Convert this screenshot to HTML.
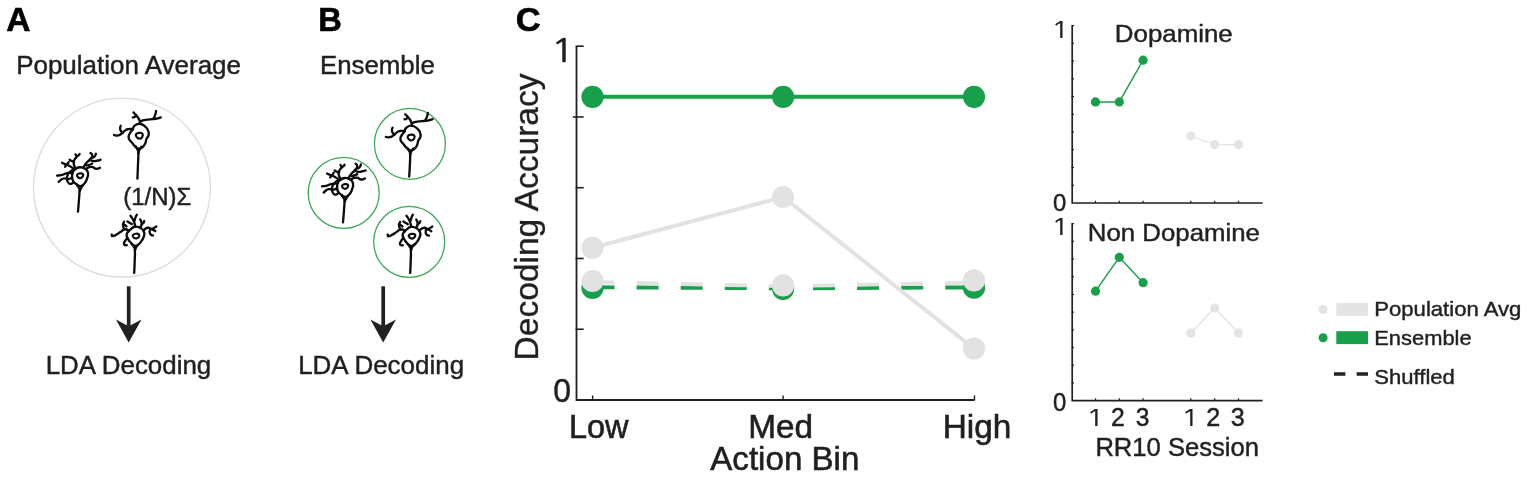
<!DOCTYPE html>
<html lang="en"><head><meta charset="utf-8"><title>Figure</title>
<style>
html,body{margin:0;padding:0;background:#fff;}
body{width:1527px;height:477px;overflow:hidden;}
svg{display:block;font-family:"Liberation Sans",Arial,Helvetica,sans-serif;}
</style></head><body>
<svg width="1527" height="477" viewBox="0 0 1527 477">
<rect width="1527" height="477" fill="#fff"/>

<text transform="translate(6.36,31.00) scale(0.9877,1)" font-size="34" font-weight="bold" stroke="#000" stroke-width="0.607" fill="#000">A</text>
<text transform="translate(16.15,73.65) scale(1.0230,1)" font-size="25.4" stroke="#231f20" stroke-width="0.440" fill="#231f20">Population Average</text>
<ellipse cx="121.95" cy="187.65" rx="88.45" ry="89.45" fill="none" stroke="#dadada" stroke-width="1.3"/>
<g transform="translate(108.00,104.00) scale(0.16759)"><g fill="none" stroke="#0a0a0a" stroke-width="13.8" stroke-linecap="round" stroke-linejoin="round"><path d="M158,131 C170.0,121.1 172.9,116.9 190,118 C207.1,119.1 208.7,123.8 222,135 C235.3,146.2 234.7,146.4 240,160 C245.3,173.6 244.9,172.7 242,186 C239.1,199.3 234.3,196.7 229,210 C223.7,223.3 228.4,223.2 222,236 C215.6,248.8 215.7,250.0 205,258 C194.3,266.0 194.0,267.9 182,266 C170.0,264.1 170.7,260.9 160,251 C149.3,241.1 151.6,241.3 142,229 C132.4,216.7 127.7,218.1 124,205 C120.3,191.9 122.4,193.3 128,180 C133.6,166.7 137.0,168.1 145,155 C153.0,141.9 146.0,140.9 158,131Z"/><path d="M167,181 C172.0,171.0 197.3,168.3 205,177 C212.7,185.7 202.7,205.7 190,207 C177.3,208.3 162.0,191.0 167,181Z" stroke-width="13.11"/><path d="M165,252 C168.7,258.7 170.7,258.7 176,272 C181.3,285.3 180.0,262.7 181,292 C182.0,321.3 180.8,309.0 179,360 C177.2,411.0 176.7,416.7 175.5,445"/><path d="M200,255 C196.0,260.7 194.0,259.7 188,272 C182.0,284.3 184.0,285.3 182,292"/><path d="M192,120 C190.7,112.7 194.7,114.0 188,98 C181.3,82.0 184.0,88.0 172,72 C160.0,56.0 158.7,57.3 152,50"/><path d="M166,68 C163.3,71.3 164.0,74.0 158,78 C152.0,82.0 151.3,79.3 148,80"/><path d="M190,106 C198.3,102.7 195.0,100.7 215,96 C235.0,91.3 226.7,94.7 250,92 C273.3,89.3 263.3,92.0 285,88 C306.7,84.0 305.0,82.7 315,80"/><path d="M270,88 C273.7,80.7 275.3,81.3 281,66 C286.7,50.7 285.0,50.0 287,42"/><path d="M150,152 C140.7,151.3 138.7,147.3 122,150 C105.3,152.7 114.0,150.7 100,160 C86.0,169.3 95.0,168.7 80,178 C65.0,187.3 69.7,185.7 55,188 C40.3,190.3 42.3,186.0 36,185"/><path d="M86,172 C81.7,165.3 76.3,166.0 73,152 C69.7,138.0 75.0,137.3 76,130"/></g></g>
<g transform="translate(52.00,148.00) scale(0.16759)"><g fill="none" stroke="#0a0a0a" stroke-width="13.8" stroke-linecap="round" stroke-linejoin="round"><path d="M135,130 C145.7,122.0 147.7,116.3 165,115 C182.3,113.7 186.7,115.7 200,125 C213.3,134.3 212.3,135.3 215,150 C217.7,164.7 215.3,164.0 210,180 C204.7,196.0 205.7,197.2 195,210 C184.3,222.8 183.3,226.7 170,228 C156.7,229.3 157.0,223.8 145,215 C133.0,206.2 131.7,208.3 125,195 C118.3,181.7 120.0,178.3 120,165 C120.0,151.7 121.0,154.3 125,145 C129.0,135.7 124.3,138.0 135,130Z"/><path d="M150,160 C154.7,151.7 177.3,148.3 184,155 C190.7,161.7 181.3,178.3 170,180 C158.7,181.7 145.3,168.3 150,160Z" stroke-width="13.11"/><path d="M150,222 C153.3,227.3 155.3,227.0 160,238 C164.7,249.0 164.0,227.7 164,255 C164.0,282.3 163.0,278.3 160,320 C157.0,361.7 156.7,360.0 155,380"/><path d="M186,220 C182.0,226.0 180.7,226.3 174,238 C167.3,249.7 168.7,249.3 166,255"/><path d="M142,124 C138.0,114.7 132.7,114.0 130,96 C127.3,78.0 128.7,84.7 134,70 C139.3,55.3 144.0,62.7 146,52 C148.0,41.3 142.0,42.7 140,38"/><path d="M146,52 C149.3,50.0 149.7,51.3 156,46 C162.3,40.7 162.0,39.3 165,36"/><path d="M132,82 C127.3,80.7 126.7,82.0 118,78 C109.3,74.0 110.0,72.7 106,70"/><path d="M186,118 C192.3,108.7 192.0,106.0 205,90 C218.0,74.0 213.3,84.7 225,70 C236.7,55.3 238.3,59.3 240,46 C241.7,32.7 233.3,35.3 230,30"/><path d="M243,58 C247.0,55.3 248.7,58.0 255,50 C261.3,42.0 259.7,39.3 262,34"/><path d="M226,70 C233.3,72.7 234.0,76.0 248,78 C262.0,80.0 254.0,78.7 268,76 C282.0,73.3 282.7,72.0 290,70"/><path d="M200,125 C211.7,121.0 214.3,113.3 235,113 C255.7,112.7 245.0,122.3 262,124 C279.0,125.7 278.0,120.0 286,118"/><path d="M205,104 C211.7,102.7 213.3,104.0 225,100 C236.7,96.0 235.0,94.7 240,92"/><path d="M132,126 C122.0,119.3 120.7,116.0 102,106 C83.3,96.0 90.0,102.0 76,96 C62.0,90.0 65.3,90.7 60,88"/><path d="M78,112 C81.3,108.0 80.7,109.3 88,100 C95.3,90.7 96.0,89.3 100,84"/><path d="M120,150 C110.0,150.0 110.0,146.7 90,150 C70.0,153.3 80.0,155.0 60,160 C40.0,165.0 40.0,163.3 30,165"/><path d="M120,176 C111.7,179.3 112.3,184.0 95,186 C77.7,188.0 86.3,176.7 68,182 C49.7,187.3 49.3,195.3 40,202"/><path d="M130,128 C121.3,134.0 117.3,130.3 104,146 C90.7,161.7 93.0,156.0 90,175 C87.0,194.0 88.0,190.0 95,203 C102.0,216.0 100.7,213.0 111,214 C121.3,215.0 121.0,208.7 126,206"/></g></g>
<g transform="translate(104.00,210.00) scale(0.16759)"><g fill="none" stroke="#0a0a0a" stroke-width="13.8" stroke-linecap="round" stroke-linejoin="round"><path d="M160,115 C170.7,107.5 169.0,101.9 185,100 C201.0,98.1 205.3,98.7 220,108 C234.7,117.3 236.0,119.8 240,135 C244.0,150.2 240.3,150.3 235,165 C229.7,179.7 229.3,178.0 220,190 C210.7,202.0 210.7,204.1 200,210 C189.3,215.9 190.7,216.0 180,212 C169.3,208.0 169.3,204.9 160,195 C150.7,185.1 151.7,187.0 145,175 C138.3,163.0 135.0,162.5 135,150 C135.0,137.5 138.3,137.3 145,128 C151.7,118.7 149.3,122.5 160,115Z"/><path d="M172,150 C176.7,141.7 200.7,138.3 208,145 C215.3,151.7 206.0,168.3 194,170 C182.0,171.7 167.3,158.3 172,150Z" stroke-width="13.11"/><path d="M165,202 C169.3,208.0 171.7,207.3 178,220 C184.3,232.7 182.3,210.0 184,240 C185.7,270.0 184.3,265.0 183,310 C181.7,355.0 181.0,353.3 180,375"/><path d="M205,205 C200.7,210.7 198.3,210.3 192,222 C185.7,233.7 188.0,234.0 186,240"/><path d="M186,100 C184.3,92.0 186.3,92.0 181,76 C175.7,60.0 177.7,66.0 170,52 C162.3,38.0 162.0,40.0 158,34"/><path d="M183,62 C184.7,56.0 183.7,55.3 188,44 C192.3,32.7 193.3,33.3 196,28"/><path d="M166,84 C161.3,81.3 160.7,81.3 152,76 C143.3,70.7 144.0,70.7 140,68"/><path d="M214,105 C217.7,97.3 224.3,98.3 225,82 C225.7,65.7 219.0,64.7 216,56"/><path d="M224,86 C228.0,82.7 230.7,82.7 236,76 C241.3,69.3 238.7,69.3 240,66"/><path d="M236,122 C244.0,116.7 243.7,108.7 260,106 C276.3,103.3 269.7,107.3 285,114 C300.3,120.7 299.0,122.0 306,126"/><path d="M286,114 C290.7,111.3 291.3,111.3 300,106 C308.7,100.7 308.0,100.7 312,98"/><path d="M274,116 C274.3,124.7 269.0,130.0 275,142 C281.0,154.0 286.3,148.7 292,152"/><path d="M150,126 C141.7,122.3 141.7,113.7 125,115 C108.3,116.3 116.7,119.7 100,130 C83.3,140.3 91.0,137.3 75,146 C59.0,154.7 61.7,156.0 52,156 C42.3,156.0 48.0,149.3 46,146"/><path d="M122,116 C119.3,108.0 114.7,107.3 114,92 C113.3,76.7 118.0,77.3 120,70"/><path d="M134,98 C130.7,95.3 131.3,94.0 124,90 C116.7,86.0 116.0,87.3 112,86"/><path d="M140,166 C135.0,172.7 131.7,172.7 125,186 C118.3,199.3 116.3,198.0 120,206 C123.7,214.0 130.7,208.7 136,210"/></g></g>
<text transform="translate(123.19,204.60) scale(0.9740,1)" font-size="24.6" stroke="#231f20" stroke-width="0.462" fill="#231f20">(1/N)Σ</text>
<path d="M128.7,286.3 V326" stroke="#231f20" stroke-width="3.7" fill="none"/><path d="M128.7,342.5 L115.89999999999999,319.6 L128.7,326.2 L141.5,319.6 Z" fill="#231f20"/>
<text transform="translate(45.65,373.60) scale(1.0278,1)" font-size="25.2" stroke="#231f20" stroke-width="0.438" fill="#231f20">LDA Decoding</text>
<text transform="translate(318.18,31.00) scale(0.9595,1)" font-size="34" font-weight="bold" stroke="#000" stroke-width="0.625" fill="#000">B</text>
<text transform="translate(320.06,73.65) scale(1.0157,1)" font-size="25.4" stroke="#231f20" stroke-width="0.443" fill="#231f20">Ensemble</text>
<circle cx="409.9" cy="143.8" r="35.5" fill="none" stroke="#3aa655" stroke-width="1.25"/>
<circle cx="343.7" cy="192.9" r="35.5" fill="none" stroke="#3aa655" stroke-width="1.25"/>
<circle cx="409.2" cy="241.9" r="35.5" fill="none" stroke="#3aa655" stroke-width="1.25"/>
<g transform="translate(379.80,105.80) scale(0.16759)"><g fill="none" stroke="#0a0a0a" stroke-width="13.8" stroke-linecap="round" stroke-linejoin="round"><path d="M158,131 C170.0,121.1 172.9,116.9 190,118 C207.1,119.1 208.7,123.8 222,135 C235.3,146.2 234.7,146.4 240,160 C245.3,173.6 244.9,172.7 242,186 C239.1,199.3 234.3,196.7 229,210 C223.7,223.3 228.4,223.2 222,236 C215.6,248.8 215.7,250.0 205,258 C194.3,266.0 194.0,267.9 182,266 C170.0,264.1 170.7,260.9 160,251 C149.3,241.1 151.6,241.3 142,229 C132.4,216.7 127.7,218.1 124,205 C120.3,191.9 122.4,193.3 128,180 C133.6,166.7 137.0,168.1 145,155 C153.0,141.9 146.0,140.9 158,131Z"/><path d="M167,181 C172.0,171.0 197.3,168.3 205,177 C212.7,185.7 202.7,205.7 190,207 C177.3,208.3 162.0,191.0 167,181Z" stroke-width="13.11"/><path d="M165,252 C168.7,258.7 170.7,258.7 176,272 C181.3,285.3 180.0,262.7 181,292 C182.0,321.3 180.8,316.7 179,360 C177.2,403.3 176.7,401.3 175.5,422"/><path d="M200,255 C196.0,260.7 194.0,259.7 188,272 C182.0,284.3 184.0,285.3 182,292"/><path d="M192,120 C190.7,112.7 194.7,114.0 188,98 C181.3,82.0 184.0,88.0 172,72 C160.0,56.0 158.7,57.3 152,50"/><path d="M166,68 C163.3,71.3 164.0,74.0 158,78 C152.0,82.0 151.3,79.3 148,80"/><path d="M190,106 C198.3,102.7 195.0,100.7 215,96 C235.0,91.3 226.7,94.7 250,92 C273.3,89.3 263.3,92.0 285,88 C306.7,84.0 305.0,82.7 315,80"/><path d="M270,88 C273.7,80.7 275.3,81.3 281,66 C286.7,50.7 285.0,50.0 287,42"/><path d="M150,152 C140.7,151.3 138.7,147.3 122,150 C105.3,152.7 114.0,150.7 100,160 C86.0,169.3 95.0,168.7 80,178 C65.0,187.3 69.7,185.7 55,188 C40.3,190.3 42.3,186.0 36,185"/><path d="M86,172 C81.7,165.3 76.3,166.0 73,152 C69.7,138.0 75.0,137.3 76,130"/></g></g>
<g transform="translate(317.00,158.70) scale(0.16759)"><g fill="none" stroke="#0a0a0a" stroke-width="13.8" stroke-linecap="round" stroke-linejoin="round"><path d="M135,130 C145.7,122.0 147.7,116.3 165,115 C182.3,113.7 186.7,115.7 200,125 C213.3,134.3 212.3,135.3 215,150 C217.7,164.7 215.3,164.0 210,180 C204.7,196.0 205.7,197.2 195,210 C184.3,222.8 183.3,226.7 170,228 C156.7,229.3 157.0,223.8 145,215 C133.0,206.2 131.7,208.3 125,195 C118.3,181.7 120.0,178.3 120,165 C120.0,151.7 121.0,154.3 125,145 C129.0,135.7 124.3,138.0 135,130Z"/><path d="M150,160 C154.7,151.7 177.3,148.3 184,155 C190.7,161.7 181.3,178.3 170,180 C158.7,181.7 145.3,168.3 150,160Z" stroke-width="13.11"/><path d="M150,222 C153.3,227.3 155.3,227.0 160,238 C164.7,249.0 164.0,227.7 164,255 C164.0,282.3 163.0,278.3 160,320 C157.0,361.7 156.7,360.0 155,380"/><path d="M186,220 C182.0,226.0 180.7,226.3 174,238 C167.3,249.7 168.7,249.3 166,255"/><path d="M142,124 C138.0,114.7 132.7,114.0 130,96 C127.3,78.0 128.7,84.7 134,70 C139.3,55.3 144.0,62.7 146,52 C148.0,41.3 142.0,42.7 140,38"/><path d="M146,52 C149.3,50.0 149.7,51.3 156,46 C162.3,40.7 162.0,39.3 165,36"/><path d="M132,82 C127.3,80.7 126.7,82.0 118,78 C109.3,74.0 110.0,72.7 106,70"/><path d="M186,118 C192.3,108.7 192.0,106.0 205,90 C218.0,74.0 213.3,84.7 225,70 C236.7,55.3 238.3,59.3 240,46 C241.7,32.7 233.3,35.3 230,30"/><path d="M243,58 C247.0,55.3 248.7,58.0 255,50 C261.3,42.0 259.7,39.3 262,34"/><path d="M226,70 C233.3,72.7 234.0,76.0 248,78 C262.0,80.0 254.0,78.7 268,76 C282.0,73.3 282.7,72.0 290,70"/><path d="M200,125 C211.7,121.0 214.3,113.3 235,113 C255.7,112.7 245.0,122.3 262,124 C279.0,125.7 278.0,120.0 286,118"/><path d="M205,104 C211.7,102.7 213.3,104.0 225,100 C236.7,96.0 235.0,94.7 240,92"/><path d="M132,126 C122.0,119.3 120.7,116.0 102,106 C83.3,96.0 90.0,102.0 76,96 C62.0,90.0 65.3,90.7 60,88"/><path d="M78,112 C81.3,108.0 80.7,109.3 88,100 C95.3,90.7 96.0,89.3 100,84"/><path d="M120,150 C110.0,150.0 110.0,146.7 90,150 C70.0,153.3 80.0,155.0 60,160 C40.0,165.0 40.0,163.3 30,165"/><path d="M120,176 C111.7,179.3 112.3,184.0 95,186 C77.7,188.0 86.3,176.7 68,182 C49.7,187.3 49.3,195.3 40,202"/><path d="M130,128 C121.3,134.0 117.3,130.3 104,146 C90.7,161.7 93.0,156.0 90,175 C87.0,194.0 88.0,190.0 95,203 C102.0,216.0 100.7,213.0 111,214 C121.3,215.0 121.0,208.7 126,206"/></g></g>
<g transform="translate(380.00,210.10) scale(0.16759)"><g fill="none" stroke="#0a0a0a" stroke-width="13.8" stroke-linecap="round" stroke-linejoin="round"><path d="M160,115 C170.7,107.5 169.0,101.9 185,100 C201.0,98.1 205.3,98.7 220,108 C234.7,117.3 236.0,119.8 240,135 C244.0,150.2 240.3,150.3 235,165 C229.7,179.7 229.3,178.0 220,190 C210.7,202.0 210.7,204.1 200,210 C189.3,215.9 190.7,216.0 180,212 C169.3,208.0 169.3,204.9 160,195 C150.7,185.1 151.7,187.0 145,175 C138.3,163.0 135.0,162.5 135,150 C135.0,137.5 138.3,137.3 145,128 C151.7,118.7 149.3,122.5 160,115Z"/><path d="M172,150 C176.7,141.7 200.7,138.3 208,145 C215.3,151.7 206.0,168.3 194,170 C182.0,171.7 167.3,158.3 172,150Z" stroke-width="13.11"/><path d="M165,202 C169.3,208.0 171.7,207.3 178,220 C184.3,232.7 182.3,210.0 184,240 C185.7,270.0 184.3,265.0 183,310 C181.7,355.0 181.0,353.3 180,375"/><path d="M205,205 C200.7,210.7 198.3,210.3 192,222 C185.7,233.7 188.0,234.0 186,240"/><path d="M186,100 C184.3,92.0 186.3,92.0 181,76 C175.7,60.0 177.7,66.0 170,52 C162.3,38.0 162.0,40.0 158,34"/><path d="M183,62 C184.7,56.0 183.7,55.3 188,44 C192.3,32.7 193.3,33.3 196,28"/><path d="M166,84 C161.3,81.3 160.7,81.3 152,76 C143.3,70.7 144.0,70.7 140,68"/><path d="M214,105 C217.7,97.3 224.3,98.3 225,82 C225.7,65.7 219.0,64.7 216,56"/><path d="M224,86 C228.0,82.7 230.7,82.7 236,76 C241.3,69.3 238.7,69.3 240,66"/><path d="M236,122 C244.0,116.7 243.7,108.7 260,106 C276.3,103.3 269.7,107.3 285,114 C300.3,120.7 299.0,122.0 306,126"/><path d="M286,114 C290.7,111.3 291.3,111.3 300,106 C308.7,100.7 308.0,100.7 312,98"/><path d="M274,116 C274.3,124.7 269.0,130.0 275,142 C281.0,154.0 286.3,148.7 292,152"/><path d="M150,126 C141.7,122.3 141.7,113.7 125,115 C108.3,116.3 116.7,119.7 100,130 C83.3,140.3 91.0,137.3 75,146 C59.0,154.7 61.7,156.0 52,156 C42.3,156.0 48.0,149.3 46,146"/><path d="M122,116 C119.3,108.0 114.7,107.3 114,92 C113.3,76.7 118.0,77.3 120,70"/><path d="M134,98 C130.7,95.3 131.3,94.0 124,90 C116.7,86.0 116.0,87.3 112,86"/><path d="M140,166 C135.0,172.7 131.7,172.7 125,186 C118.3,199.3 116.3,198.0 120,206 C123.7,214.0 130.7,208.7 136,210"/></g></g>
<path d="M383.2,286.3 V326" stroke="#231f20" stroke-width="3.7" fill="none"/><path d="M383.2,342.5 L370.4,319.6 L383.2,326.2 L396.0,319.6 Z" fill="#231f20"/>
<text transform="translate(298.15,373.70) scale(1.0303,1)" font-size="25.2" stroke="#231f20" stroke-width="0.437" fill="#231f20">LDA Decoding</text>
<text transform="translate(515.72,31.10) scale(1.0148,1)" font-size="34" font-weight="bold" stroke="#000" stroke-width="0.591" fill="#000">C</text>
<path d="M576.5,46.2 V400.0 H974.7" fill="none" stroke="#231f20" stroke-width="1.8" stroke-linejoin="miter"/>
<path d="M575.65,46.20 H583.70" stroke="#231f20" stroke-width="1.6"/>
<path d="M573.00,116.96 H583.70" stroke="#231f20" stroke-width="1.6"/>
<path d="M575.65,187.72 H583.70" stroke="#231f20" stroke-width="1.6"/>
<path d="M575.65,258.48 H583.70" stroke="#231f20" stroke-width="1.6"/>
<path d="M575.65,329.24 H583.70" stroke="#231f20" stroke-width="1.6"/>
<path d="M592.6,400.0 v-4.6" stroke="#231f20" stroke-width="1.4"/>
<path d="M783.1,400.0 v-4.6" stroke="#231f20" stroke-width="1.4"/>
<path d="M974.5,400.0 v-4.6" stroke="#231f20" stroke-width="1.4"/>
<text transform="translate(550.66,62.10) scale(1.1989,1)" font-size="33" font-family="NanumGothic,'Liberation Sans',sans-serif" stroke="#231f20" stroke-width="0.500" fill="#231f20">1</text>
<text transform="translate(553.25,402.00) scale(0.9406,1)" font-size="34" stroke="#231f20" stroke-width="0.478" fill="#231f20">0</text>
<text transform="translate(569.00,438.00) scale(0.9783,1)" font-size="33.2" stroke="#231f20" stroke-width="0.613" fill="#231f20">Low</text>
<text transform="translate(748.23,438.10) scale(1.0040,1)" font-size="33.2" stroke="#231f20" stroke-width="0.598" fill="#231f20">Med</text>
<text transform="translate(942.63,438.00) scale(1.0061,1)" font-size="33.2" stroke="#231f20" stroke-width="0.596" fill="#231f20">High</text>
<text transform="translate(710.30,470.30) scale(1.0185,1)" font-size="32.5" stroke="#231f20" stroke-width="0.589" fill="#231f20">Action Bin</text>
<text transform="translate(537.70,360.38) rotate(-90) scale(0.9861,1)" font-size="34" fill="#231f20" stroke="#231f20" stroke-width="0.35">Decoding Accuracy</text>
<polyline points="592.5,287.2 783.1,288.4 974.0,287.4" fill="none" stroke="#17a049" stroke-width="3.9" stroke-dasharray="22 22.1"/><circle cx="592.5" cy="287.8" r="11.1" fill="#17a049"/><circle cx="783.1" cy="288.8" r="11.1" fill="#17a049"/><circle cx="974.0" cy="287.7" r="11.1" fill="#17a049"/>
<polyline points="592.5,282.1 783.1,286.2 974.0,282.6" fill="none" stroke="#e2e2e2" stroke-width="3.9" stroke-dasharray="22 22.1"/><circle cx="592.5" cy="281.0" r="11.1" fill="#e2e2e2"/><circle cx="783.1" cy="285.3" r="11.1" fill="#e2e2e2"/><circle cx="974.0" cy="280.3" r="11.1" fill="#e2e2e2"/>
<polyline points="592.5,247.8 783.1,197.0 974.0,348.6" fill="none" stroke="#e2e2e2" stroke-width="4"/><circle cx="592.5" cy="247.8" r="11.1" fill="#e2e2e2"/><circle cx="783.1" cy="197.0" r="11.1" fill="#e2e2e2"/><circle cx="974.0" cy="348.6" r="11.1" fill="#e2e2e2"/>
<polyline points="592.5,96.8 783.1,96.8 974.0,96.8" fill="none" stroke="#17a049" stroke-width="4"/><circle cx="592.5" cy="96.8" r="11.1" fill="#17a049"/><circle cx="783.1" cy="96.8" r="11.1" fill="#17a049"/><circle cx="974.0" cy="96.8" r="11.1" fill="#17a049"/>
<path d="M1072.2,25.6 V203.0 H1262.6" fill="none" stroke="#231f20" stroke-width="1.65"/><path d="M1071.5,25.60 h2.5" stroke="#231f20" stroke-width="1.2"/><path d="M1071.5,43.34 h2.5" stroke="#231f20" stroke-width="1.2"/><path d="M1071.5,61.08 h2.5" stroke="#231f20" stroke-width="1.2"/><path d="M1071.5,78.82 h2.5" stroke="#231f20" stroke-width="1.2"/><path d="M1071.5,96.56 h2.5" stroke="#231f20" stroke-width="1.2"/><path d="M1071.5,114.30 h2.5" stroke="#231f20" stroke-width="1.2"/><path d="M1071.5,132.04 h2.5" stroke="#231f20" stroke-width="1.2"/><path d="M1071.5,149.78 h2.5" stroke="#231f20" stroke-width="1.2"/><path d="M1071.5,167.52 h2.5" stroke="#231f20" stroke-width="1.2"/><path d="M1071.5,185.26 h2.5" stroke="#231f20" stroke-width="1.2"/><path d="M1095.5,203.0 v-2.3" stroke="#231f20" stroke-width="1.2"/><path d="M1119.3,203.0 v-2.3" stroke="#231f20" stroke-width="1.2"/><path d="M1143.1,203.0 v-2.3" stroke="#231f20" stroke-width="1.2"/><path d="M1190.8,203.0 v-2.3" stroke="#231f20" stroke-width="1.2"/><path d="M1214.7,203.0 v-2.3" stroke="#231f20" stroke-width="1.2"/><path d="M1238.5,203.0 v-2.3" stroke="#231f20" stroke-width="1.2"/><polyline points="1095.5,101.95 1119.3,101.95 1143.1,60.2" fill="none" stroke="#17a049" stroke-width="1.4"/><circle cx="1095.5" cy="101.95" r="4.6" fill="#17a049"/><circle cx="1119.3" cy="101.95" r="4.6" fill="#17a049"/><circle cx="1143.1" cy="60.2" r="4.6" fill="#17a049"/><polyline points="1190.8,136.1 1214.7,144.6 1238.5,144.6" fill="none" stroke="#e4e4e4" stroke-width="1.4"/><circle cx="1190.8" cy="136.1" r="4.6" fill="#e4e4e4"/><circle cx="1214.7" cy="144.6" r="4.6" fill="#e4e4e4"/><circle cx="1238.5" cy="144.6" r="4.6" fill="#e4e4e4"/><text transform="translate(1114.85,42.45) scale(1.0436,1)" font-size="24.8" stroke="#231f20" stroke-width="0.431" fill="#231f20">Dopamine</text><text transform="translate(1051.15,37.83) scale(1.2859,1)" font-size="23.33" font-family="NanumGothic,'Liberation Sans',sans-serif" stroke="#231f20" stroke-width="0.233" fill="#231f20">1</text><text transform="translate(1052.97,211.14) scale(0.9993,1)" font-size="23.87" stroke="#231f20" stroke-width="0.450" fill="#231f20">0</text>
<path d="M1072.2,223.6 V400.6 H1262.6" fill="none" stroke="#231f20" stroke-width="1.65"/><path d="M1071.5,223.60 h2.5" stroke="#231f20" stroke-width="1.2"/><path d="M1071.5,241.30 h2.5" stroke="#231f20" stroke-width="1.2"/><path d="M1071.5,259.00 h2.5" stroke="#231f20" stroke-width="1.2"/><path d="M1071.5,276.70 h2.5" stroke="#231f20" stroke-width="1.2"/><path d="M1071.5,294.40 h2.5" stroke="#231f20" stroke-width="1.2"/><path d="M1071.5,312.10 h2.5" stroke="#231f20" stroke-width="1.2"/><path d="M1071.5,329.80 h2.5" stroke="#231f20" stroke-width="1.2"/><path d="M1071.5,347.50 h2.5" stroke="#231f20" stroke-width="1.2"/><path d="M1071.5,365.20 h2.5" stroke="#231f20" stroke-width="1.2"/><path d="M1071.5,382.90 h2.5" stroke="#231f20" stroke-width="1.2"/><path d="M1095.5,400.6 v-2.3" stroke="#231f20" stroke-width="1.2"/><path d="M1119.3,400.6 v-2.3" stroke="#231f20" stroke-width="1.2"/><path d="M1143.1,400.6 v-2.3" stroke="#231f20" stroke-width="1.2"/><path d="M1190.8,400.6 v-2.3" stroke="#231f20" stroke-width="1.2"/><path d="M1214.7,400.6 v-2.3" stroke="#231f20" stroke-width="1.2"/><path d="M1238.5,400.6 v-2.3" stroke="#231f20" stroke-width="1.2"/><polyline points="1095.5,291.2 1119.3,257.3 1143.1,282.7" fill="none" stroke="#17a049" stroke-width="1.4"/><circle cx="1095.5" cy="291.2" r="4.6" fill="#17a049"/><circle cx="1119.3" cy="257.3" r="4.6" fill="#17a049"/><circle cx="1143.1" cy="282.7" r="4.6" fill="#17a049"/><polyline points="1190.8,332.9 1214.7,308.0 1238.5,332.9" fill="none" stroke="#e4e4e4" stroke-width="1.4"/><circle cx="1190.8" cy="332.9" r="4.6" fill="#e4e4e4"/><circle cx="1214.7" cy="308.0" r="4.6" fill="#e4e4e4"/><circle cx="1238.5" cy="332.9" r="4.6" fill="#e4e4e4"/><text transform="translate(1087.86,240.60) scale(1.0403,1)" font-size="24.8" stroke="#231f20" stroke-width="0.433" fill="#231f20">Non Dopamine</text><text transform="translate(1051.15,235.24) scale(1.3083,1)" font-size="22.93" font-family="NanumGothic,'Liberation Sans',sans-serif" stroke="#231f20" stroke-width="0.229" fill="#231f20">1</text><text transform="translate(1052.97,411.23) scale(0.9595,1)" font-size="24.86" stroke="#231f20" stroke-width="0.469" fill="#231f20">0</text>
<text transform="translate(1086.03,426.23) scale(1.3009,1)" font-size="23.73" font-family="NanumGothic,'Liberation Sans',sans-serif" stroke="#231f20" stroke-width="0.231" fill="#231f20">1</text>
<text transform="translate(1111.09,426.27) scale(0.9808,1)" font-size="25.21" stroke="#231f20" stroke-width="0.459" fill="#231f20">2</text>
<text transform="translate(1135.84,426.03) scale(0.9866,1)" font-size="24.86" stroke="#231f20" stroke-width="0.456" fill="#231f20">3</text>
<text transform="translate(1181.35,426.23) scale(1.2642,1)" font-size="23.73" font-family="NanumGothic,'Liberation Sans',sans-serif" stroke="#231f20" stroke-width="0.237" fill="#231f20">1</text>
<text transform="translate(1206.17,426.27) scale(0.9982,1)" font-size="25.21" stroke="#231f20" stroke-width="0.451" fill="#231f20">2</text>
<text transform="translate(1230.82,426.03) scale(1.0120,1)" font-size="24.86" stroke="#231f20" stroke-width="0.445" fill="#231f20">3</text>
<text transform="translate(1095.38,455.70) scale(1.0044,1)" font-size="25.5" stroke="#231f20" stroke-width="0.448" fill="#231f20">RR10 Session</text>
<circle cx="1323.1" cy="309.5" r="4.5" fill="#e4e4e4"/><rect x="1336.3" y="302.8" width="31.7" height="13.1" fill="#e4e4e4"/>
<circle cx="1323.1" cy="337.7" r="4.5" fill="#17a049"/><rect x="1336.3" y="331.2" width="31.7" height="12.9" fill="#17a049"/>
<path d="M1334,374 h11.4 M1356.6,374 h11.4" stroke="#231f20" stroke-width="3.6"/>
<text transform="translate(1374.25,315.60) scale(1.0537,1)" font-size="21" stroke="#231f20" stroke-width="0.427" fill="#231f20">Population Avg</text>
<text transform="translate(1374.27,344.70) scale(1.0433,1)" font-size="21" stroke="#231f20" stroke-width="0.431" fill="#231f20">Ensemble</text>
<text transform="translate(1374.33,383.70) scale(1.0499,1)" font-size="21" stroke="#231f20" stroke-width="0.429" fill="#231f20">Shuffled</text>
</svg>
</body></html>
